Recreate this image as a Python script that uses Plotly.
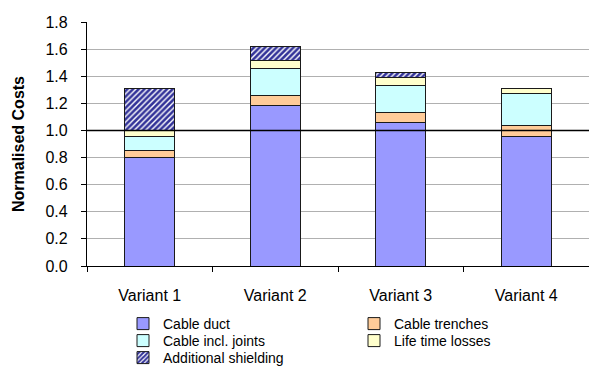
import plotly.graph_objects as go

categories = ["Variant 1", "Variant 2", "Variant 3", "Variant 4"]
cable_duct = [0.80, 1.185, 1.06, 0.955]
cable_trenches = [0.053, 0.076, 0.073, 0.08]
cable_joints = [0.10, 0.197, 0.202, 0.239]
life_losses = [0.045, 0.061, 0.057, 0.039]
add_shielding = [0.31, 0.098, 0.036, 0.0]
reference_level = 1.0
y_ticks = [0.0, 0.2, 0.4, 0.6, 0.8, 1.0, 1.2, 1.4, 1.6, 1.8]

FONT = "Liberation Sans, Arial, sans-serif"
line = dict(color="#1a1a1a", width=1)

fig = go.Figure()
fig.add_bar(x=categories, y=cable_duct, name="Cable duct", legend="legend",
            marker=dict(color="#9999FF", line=line))
fig.add_bar(x=categories, y=cable_trenches, name="Cable trenches", legend="legend",
            marker=dict(color="#FFCC99", line=line))
fig.add_bar(x=categories, y=cable_joints, name="Cable incl. joints", legend="legend2",
            marker=dict(color="#CCFFFF", line=line))
fig.add_bar(x=categories, y=life_losses, name="Life time losses", legend="legend2",
            marker=dict(color="#FFFFCC", line=line))
fig.add_bar(x=categories, y=add_shielding, name="Additional shielding", legend="legend3",
            marker=dict(color="#333399", line=line,
                        pattern=dict(shape="/", fgcolor="#333399", bgcolor="white",
                                     size=4, solidity=0.65, fillmode="replace")))

fig.add_shape(type="line", xref="paper", x0=0, x1=1, yref="y",
              y0=reference_level, y1=reference_level,
              line=dict(color="black", width=1.5), layer="above")


def legend_row(top_px):
    return dict(orientation="h", x=123 / 589, xanchor="left",
                y=1 - top_px / 367, yanchor="top",
                xref="container", yref="container",
                entrywidth=186, traceorder="normal",
                font=dict(family=FONT, size=14, color="black"),
                bgcolor="rgba(0,0,0,0)")


fig.update_layout(
    width=589, height=367,
    margin=dict(l=87, r=0, t=22, b=101),
    barmode="stack", bargap=0.6,
    plot_bgcolor="white", paper_bgcolor="white",
    font=dict(family=FONT, size=16, color="black"),
    showlegend=True,
    legend=legend_row(308),
    legend2=legend_row(325),
    legend3=legend_row(342),
    xaxis=dict(showline=True, linecolor="black", linewidth=1.2,
               ticks="outside", ticklen=5, tickcolor="black",
               tickson="boundaries", ticklabelstandoff=15,
               tickfont=dict(size=16), showgrid=False),
    yaxis=dict(range=[0, 1.8], tickvals=y_ticks,
               ticktext=[f"{v:.1f}" for v in y_ticks],
               showline=True, linecolor="black", linewidth=1.2,
               ticks="outside", ticklen=5, tickcolor="black",
               ticklabelstandoff=10,
               showgrid=True, gridcolor="#B0B0B0", gridwidth=1,
               zeroline=False, tickfont=dict(size=16),
               title=dict(text="<b>Normalised Costs</b>", standoff=16,
                          font=dict(size=16))),
)

fig.write_html("out.html")
